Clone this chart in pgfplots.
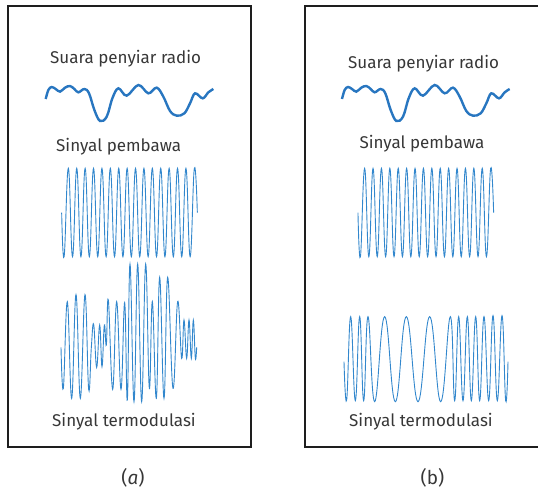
\documentclass[border=0pt]{standalone}
\usepackage{pgfplots}
\pgfplotsset{compat=1.18}
\usepackage{pgfplotstable}
\usepackage{fontspec}
\setmainfont{Fira Sans}
\definecolor{wave}{RGB}{50,135,205}
\definecolor{voice}{RGB}{40,118,192}
\definecolor{txt}{RGB}{55,55,55}
\definecolor{frame}{RGB}{30,30,30}
\pgfplotsset{win/.style 2 args={at={(#1pt,-#2pt)}, anchor=north west,
  x=0.333333pt, y=0.333333pt, y dir=reverse, xmin=0, ymin=0,
  enlargelimits=false, hide axis, clip=false}}

% audio signal (shape)
\pgfplotstableread{
x y
12 72
20 45
30 36
42 42
55 50
70 38
85 33
98 42
110 52
128 42
142 55
158 105
175 138
195 125
212 70
230 40
255 62
290 30
320 55
345 38
365 65
385 108
405 122
428 115
445 85
460 55
483 70
500 52
515 42
}\audio

% carrier signal: extrema
\pgfplotstableread{
x y
20 158
27.4 290
40 25
52.6 290
65.2 25
77.8 290
90.4 25
103 290
115.6 25
128.2 290
140.8 25
153.4 290
166 25
178.6 290
191.2 25
203.8 290
216.4 25
229 290
241.6 25
254.2 290
266.8 25
279.4 290
292 25
304.6 290
317.2 25
329.8 290
342.4 25
355 290
367.6 25
380.2 290
392.8 25
405.4 290
418 25
427 158
}\carrier

% amplitude modulated signal: extrema
\pgfplotstableread{
x y
18 262
25 385
37 125
50 415
63 104
76 415
90 104
101 388
109 262
116 193
125 322
134 195
141 320
148 195
154 255
160 120
173 388
185 125
198 388
209 128
217 420
225 12
237 425
248 12
260 425
272 12
283 385
292 125
304 415
314 52
327 415
338 52
354 385
368 125
380 295
387 180
395 295
402 180
409 295
415 180
421 295
425 262
}\amsig

% frequency modulated signal: extrema
\pgfplotstableread{
x y
18 170
26 285
38 35
52 287
65 35
77 287
90 35
110 290
140 35
172 290
205 35
240 290
275 35
308 290
337 35
350 287
362 35
375 287
388 35
400 287
413 35
425 287
438 35
452 287
465 32
478 287
492 32
503 287
510 170
}\fmsig

\begin{document}
\begin{tikzpicture}
\path[use as bounding box] (0pt,0pt) rectangle (538pt,-492pt);
\draw[frame, line width=1.4pt] (8pt,-6pt) rectangle (251pt,-447pt);
\draw[frame, line width=1.4pt] (545pt,-6pt) -- (305pt,-6pt) -- (305pt,-447pt) -- (545pt,-447pt);

\begin{scope}[every node/.style={inner sep=0pt, text=txt, font=\fontsize{17}{20}\selectfont}]
\node[anchor=base west] at (50pt,-63.3pt) {Suara penyiar radio};
\node[anchor=base west] at (56pt,-151.7pt) {Sinyal pembawa};
\node[anchor=base west] at (52pt,-426.7pt) {Sinyal termodulasi};
\node[anchor=base west] at (348pt,-68.3pt) {Suara penyiar radio};
\node[anchor=base west] at (359.3pt,-148.3pt) {Sinyal pembawa};
\node[anchor=base west] at (349pt,-426.7pt) {Sinyal termodulasi};
\end{scope}
\node[inner sep=0pt, text=txt, font=\fontsize{19}{22}\selectfont, anchor=base] at (133pt,-484pt) {(\textit{a})};
\node[inner sep=0pt, text=txt, font=\fontsize{19}{22}\selectfont, anchor=base] at (432.5pt,-484pt) {(b)};

\begin{axis}[win={41.7}{75}]
\addplot[voice, line width=2.4pt, smooth, tension=0.6] table {\audio};
\end{axis}
\begin{axis}[win={338}{75}]
\addplot[voice, line width=2.4pt, smooth, tension=0.6] table {\audio};
\end{axis}
\begin{axis}[win={55}{160}]
\addplot[wave, line width=0.9pt, smooth, tension=0.75] table {\carrier};
\end{axis}
\begin{axis}[win={351.3}{160}]
\addplot[wave, line width=0.9pt, smooth, tension=0.75] table {\carrier};
\end{axis}
\begin{axis}[win={55}{260}]
\addplot[wave, line width=0.9pt, smooth, tension=0.7] table {\amsig};
\end{axis}
\begin{axis}[win={338}{305}]
\addplot[wave, line width=0.9pt, smooth, tension=0.75] table {\fmsig};
\end{axis}
\end{tikzpicture}
\end{document}
